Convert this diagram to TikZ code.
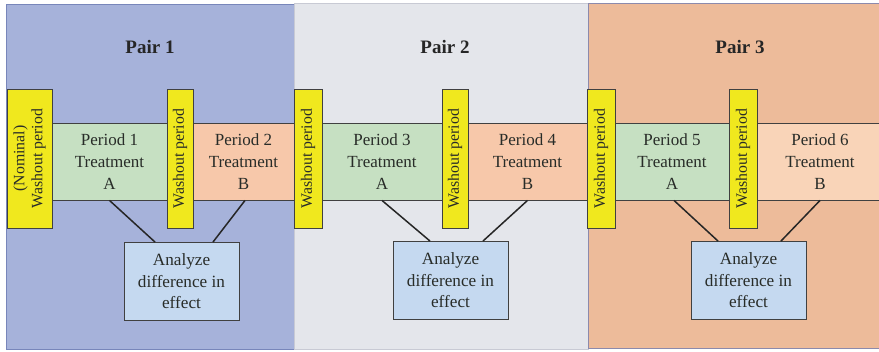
\documentclass[tikz,border=0pt]{standalone}
\usepackage{fontspec}
\setmainfont{Liberation Serif}
\usetikzlibrary{calc}
\definecolor{pairA}{RGB}{166,178,218}
\definecolor{pairAline}{RGB}{120,134,186}
\definecolor{pairB}{RGB}{228,230,235}
\definecolor{pairBline}{RGB}{200,202,212}
\definecolor{pairC}{RGB}{237,187,154}
\definecolor{pairCline}{RGB}{140,138,172}
\definecolor{washY}{RGB}{240,232,30}
\definecolor{perG}{RGB}{198,224,194}
\definecolor{perP}{RGB}{247,200,170}
\definecolor{perPL}{RGB}{249,212,184}
\definecolor{anaB}{RGB}{197,217,240}
\definecolor{edgeD}{RGB}{64,64,64}
\definecolor{txtD}{RGB}{40,44,40}
\tikzset{
  panel/.style={rectangle, inner sep=0pt, line width=1pt},
  washbar/.style={rectangle, draw=edgeD, fill=washY, line width=0.9pt, inner sep=0pt,
    rotate=90, minimum width=139pt, align=center, text=txtD,
    font=\fontsize{15.8}{18}\selectfont},
  perbox/.style={rectangle, draw=edgeD, line width=0.9pt, inner sep=0pt,
    minimum height=77pt, align=center, text=txtD,
    font=\fontsize{17}{22}\selectfont},
  anabox/.style={rectangle, draw=edgeD, fill=anaB, line width=0.9pt, inner sep=0pt,
    minimum width=115pt, minimum height=78pt, align=center, text=txtD,
    font=\fontsize{17.2}{21.5}\selectfont},
  pairtitle/.style={font=\bfseries\fontsize{19}{22}\selectfont, text=black!85},
  link/.style={draw=black!85, line width=1.5pt}
}
\begin{document}
\begin{tikzpicture}[x=1pt,y=-1pt]
\useasboundingbox (0,0) rectangle (879,352);
% panels
\node[panel, fill=pairA, draw=pairAline, minimum width=288pt, minimum height=345pt] (panA) at (150,177) {};
\node[panel, fill=pairB, draw=pairBline, minimum width=294pt, minimum height=346pt] (panB) at (441,177) {};
\node[panel, fill=pairC, draw=pairCline, minimum width=300pt, minimum height=345pt] (panC) at (738,176.5) {};
\node[panel, fill=pairA, minimum width=1pt, minimum height=343pt] (seam) at (293.5,177) {};
% titles
\node[pairtitle] (tA) at (150,47) {Pair 1};
\node[pairtitle] (tB) at (445,47) {Pair 2};
\node[pairtitle] (tC) at (740,47) {Pair 3};
% periods
\node[perbox, fill=perG, minimum width=115pt] (p1) at (109.5,161.5) {Period 1\\Treatment\\A};
\node[perbox, fill=perP, minimum width=101pt] (p2) at (243.5,161.5) {Period 2\\Treatment\\B};
\node[perbox, fill=perG, minimum width=120pt] (p3) at (382,161.5) {Period 3\\Treatment\\A};
\node[perbox, fill=perP, minimum width=119pt] (p4) at (527.5,161.5) {Period 4\\Treatment\\B};
\node[perbox, fill=perG, minimum width=114pt] (p5) at (672,161.5) {Period 5\\Treatment\\A};
\node[perbox, fill=perPL, minimum width=126pt] (p6) at (820,161.5) {Period 6\\Treatment\\B};
% washout bars
\node[washbar, minimum height=45pt] (w1) at (29.5,158.5) {(Nominal)\\Washout period};
\node[washbar, minimum height=26pt] (w2) at (180,158.5) {Washout period};
\node[washbar, minimum height=28pt] (w3) at (308,158.5) {Washout period};
\node[washbar, minimum height=26pt] (w4) at (455,158.5) {Washout period};
\node[washbar, minimum height=28pt] (w5) at (601,158.5) {Washout period};
\node[washbar, minimum height=28pt] (w6) at (743,158.5) {Washout period};
% analyze boxes
\node[anabox] (a1) at (181.5,281.5) {Analyze\\difference in\\effect};
\node[anabox] (a2) at (450.5,280.5) {Analyze\\difference in\\effect};
\node[anabox] (a3) at (748.5,280.5) {Analyze\\difference in\\effect};
% links
\draw[link] (p1.south) -- ([xshift=-26.5pt]a1.north);
\draw[link] ([xshift=1.5pt]p2.south) -- ([xshift=31.5pt]a1.north);
\draw[link] (p3.south) -- ([xshift=-20.5pt]a2.north);
\draw[link] (p4.south) -- ([xshift=32.5pt]a2.north);
\draw[link] ([xshift=2pt]p5.south) -- ([xshift=-30.5pt]a3.north);
\draw[link] (p6.south) -- ([xshift=32.5pt]a3.north);
\end{tikzpicture}
\end{document}
